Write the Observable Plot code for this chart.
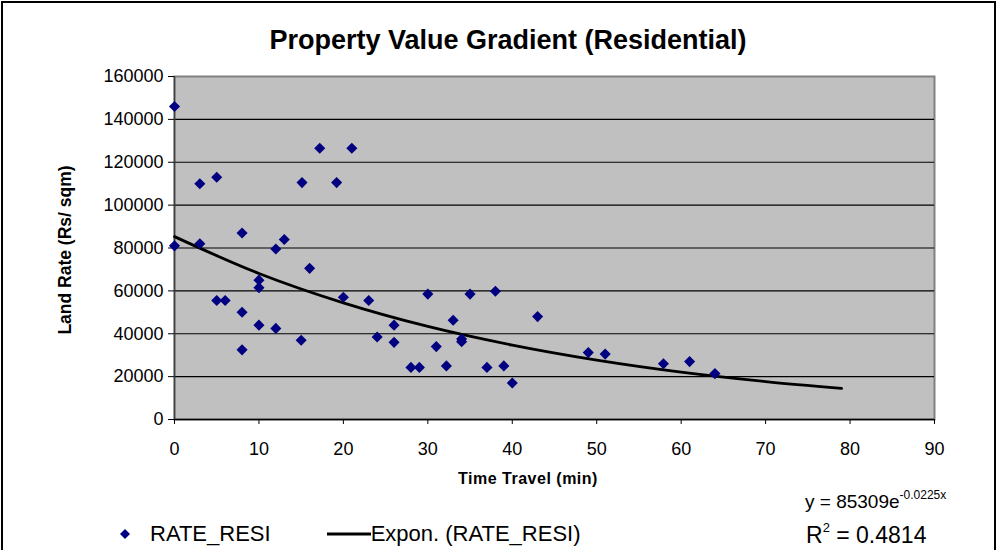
<!DOCTYPE html>
<html>
<head>
<meta charset="utf-8">
<script src="https://cdn.jsdelivr.net/npm/d3@7"></script>
<script src="https://cdn.jsdelivr.net/npm/@observablehq/plot@0.6"></script>
<style>
  html, body { margin: 0; padding: 0; background: #fff; }
  #wrap { position: relative; width: 999px; height: 550px; overflow: hidden; font-family: "Liberation Sans", Arial, sans-serif; }
  #frame { position: absolute; left: 1px; top: 1px; width: 995px; height: 600px; border: 2px solid #000; box-sizing: border-box; }
  .abs { position: absolute; white-space: nowrap; color: #000; }
  #title { left: 0; width: 1016px; top: 25px; text-align: center; font-weight: bold; font-size: 27px; }
  #ylabel { left: 65px; top: 250px; font-weight: bold; font-size: 17.5px; transform: translate(-50%, -50%) rotate(-90deg); }
  #xlabel { left: 528px; top: 470px; transform: translateX(-50%); font-weight: bold; font-size: 16px; letter-spacing: 0.5px; }
  #eq1 { left: 805px; top: 488px; font-size: 19px; }
  #eq1 sup { font-size: 12px; vertical-align: 9px; }
  #eq2 { left: 806px; top: 520px; font-size: 23px; }
  #eq2 sup { font-size: 13px; vertical-align: 11px; }
  #plot { position: absolute; left: 0; top: 0; }
  #legend { left: 118px; top: 521px; font-size: 22px; display: flex; align-items: center; }
  .sw { display: inline-block; }
</style>
</head>
<body>
<div id="wrap">
  <div id="frame"></div>
  <div id="plot"></div>
  <div class="abs" id="title">Property Value Gradient (Residential)</div>
  <div class="abs" id="ylabel">Land Rate (Rs/ sqm)</div>
  <div class="abs" id="xlabel">Time Travel (min)</div>
  <div class="abs" id="eq1">y = 85309e<sup>-0.0225x</sup></div>
  <div class="abs" id="eq2">R<sup>2</sup> = 0.4814</div>
  <div class="abs" id="legend"></div>
</div>
<script>
// Data
const timeTravel = [0,0,3,3,5,5,6,8,8,8,10,10,10,12,12,13,15.1,15,16,17.2,19.2,20,21,23,24,26,26,28,29,30,31,32.2,33,34,34,35,37,38,39,40,43,49,51,57.9,61,64];
const landRate = [146000,81000,110000,82000,113000,55500,55500,87000,50000,32500,65000,61500,44000,79500,42500,84000,110500,37000,70500,126500,110500,57000,126500,55500,38500,44000,36000,24300,24300,58500,34000,25000,46300,37500,36300,58500,24300,59800,25000,17000,48000,31200,30500,26000,27000,21400];

// Exponential trendline (Expon. (RATE_RESI))
const trendX = [0,10,20,30,40,50,60,70,79];
const trendY = [85300,68100,54400,43400,34700,27700,22100,17700,14500];

const xTicks = [0,10,20,30,40,50,60,70,80,90];
const yTicks = [0,20000,40000,60000,80000,100000,120000,140000,160000];
const gridTicks = [20000,40000,60000,80000,100000,120000,140000];

const seriesName = "RATE_RESI";
const trendName = "Expon. (RATE_RESI)";

const points = timeTravel.map((t, i) => ({t, v: landRate[i]}));
const trend = trendX.map((t, i) => ({t, v: trendY[i]}));

const chart = Plot.plot({
  width: 999,
  height: 550,
  marginLeft: 174,
  marginRight: 65,
  marginTop: 76,
  marginBottom: 131,
  style: {fontFamily: "'Liberation Sans', Arial, sans-serif", background: "transparent", color: "#000"},
  x: {domain: [0, 90]},
  y: {domain: [0, 160000]},
  marks: [
    Plot.frame({fill: "#c0c0c0", stroke: "#808080", strokeWidth: 2}),
    Plot.gridY(gridTicks, {stroke: "#000", strokeOpacity: 1, strokeWidth: 1.2}),
    Plot.ruleX([0], {stroke: "#404040", strokeWidth: 1.5}),
    Plot.ruleY([0], {stroke: "#000", strokeWidth: 1.5}),
    Plot.axisY({ticks: yTicks, tickFormat: d => String(d), tickSize: 6, tickPadding: 5, fontSize: 18, label: null, stroke: "#000"}),
    Plot.axisX({ticks: xTicks, tickFormat: d => String(d), tickSize: 5, tickPadding: 18, fontSize: 18, label: null, stroke: "#000"}),
    Plot.line(trend, {x: "t", y: "v", stroke: "#000", strokeWidth: 2.8, curve: "monotone-x"}),
    Plot.dot(points, {x: "t", y: "v", symbol: "diamond2", r: 5, fill: "#000080", stroke: "none"})
  ]
});
document.getElementById("plot").appendChild(chart);

// Legend
const legend = document.getElementById("legend");
legend.innerHTML =
  `<svg class="sw" width="14" height="14" viewBox="-7 -7 14 14"><path d="M0,-5L5,0L0,5L-5,0Z" fill="#000080"/></svg>` +
  `<span style="margin-left:18px">${seriesName}</span>` +
  `<svg class="sw" width="44" height="10" style="margin-left:56px"><line x1="0" x2="44" y1="5" y2="5" stroke="#000" stroke-width="3"/></svg>` +
  `<span>${trendName}</span>`;
</script>
</body>
</html>
